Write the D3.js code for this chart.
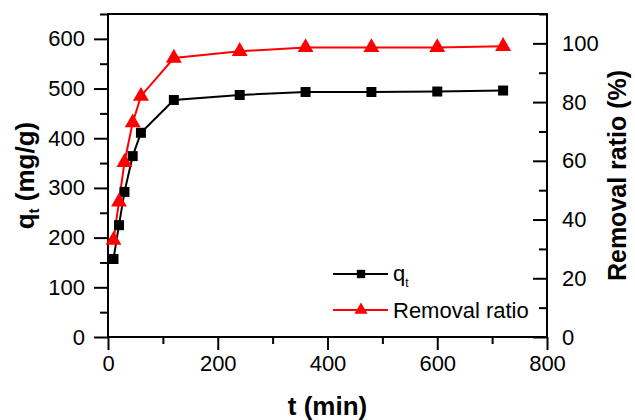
<!DOCTYPE html>
<html>
<head>
<meta charset="utf-8">
<script src="https://cdn.jsdelivr.net/npm/d3@7"></script>
<style>
  body { margin: 0; background: #fff; }
  text { font-family: "Liberation Sans", Arial, sans-serif; }
</style>
</head>
<body>
<div id="viz"></div>
<script>
const times = [10, 20, 30, 45, 60, 120, 240, 360, 480, 600, 720];
const qt = [157, 225, 292, 364, 411, 477, 487, 493, 493, 494, 496];
const removal = [33, 46, 59.5, 73, 82, 95, 97.3, 98.6, 98.6, 98.6, 99];
const xTicks = [0, 200, 400, 600, 800];
const leftTicks = [0, 100, 200, 300, 400, 500, 600];
const rightTicks = [0, 20, 40, 60, 80, 100];

const W = 635, H = 420;
const margin = {top: 14, right: 88, bottom: 83, left: 108};
const width = W - margin.left - margin.right;
const height = H - margin.top - margin.bottom;

const svg = d3.select('#viz').append('svg')
    .attr('width', W)
    .attr('height', H);

const g = svg.append('g')
    .attr('transform', `translate(${margin.left},${margin.top})`);

const x = d3.scaleLinear().domain([0, 800]).range([0, width]);
const yL = d3.scaleLinear().domain([0, 650]).range([height, 0]);
const yR = d3.scaleLinear().domain([0, 110]).range([height, 0]);

// minor ticks first
g.append('g')
    .attr('transform', `translate(0,${height})`)
    .call(d3.axisBottom(x).tickValues(d3.range(100, 800, 200)).tickSize(7).tickFormat(''));
g.append('g')
    .call(d3.axisLeft(yL).tickValues(d3.range(50, 651, 100)).tickSize(8).tickFormat(''));
g.append('g')
    .attr('transform', `translate(${width},0)`)
    .call(d3.axisLeft(yR).tickValues(d3.range(10, 111, 20)).tickSize(8).tickFormat(''));

// major
g.append('g')
    .attr('class', 'ax')
    .attr('transform', `translate(0,${height})`)
    .call(d3.axisBottom(x).tickValues(xTicks).tickSize(13).tickPadding(5));
g.append('g')
    .attr('class', 'ax')
    .call(d3.axisLeft(yL).tickValues(leftTicks).tickSize(14).tickPadding(9));
const rAx = g.append('g')
    .attr('class', 'ax')
    .attr('transform', `translate(${width},0)`)
    .call(d3.axisLeft(yR).tickValues(rightTicks).tickSize(14).tickPadding(0));
rAx.selectAll('text')
    .attr('x', 15)
    .attr('text-anchor', 'start');

g.selectAll('.domain').remove();
g.selectAll('.tick line').attr('stroke', '#000').attr('stroke-width', 2);
g.selectAll('.ax text')
    .attr('fill', '#000')
    .style('font-size', '22px')
    .style('font-family', '"Liberation Sans", Arial, sans-serif');

// frame
g.append('rect')
    .attr('width', width)
    .attr('height', height)
    .attr('fill', 'none')
    .attr('stroke', '#000')
    .attr('stroke-width', 2);

// series
const lineQ = d3.line().x((d, i) => x(times[i])).y(d => yL(d));
const lineR = d3.line().x((d, i) => x(times[i])).y(d => yR(d));

g.append('path').datum(qt)
    .attr('d', lineQ)
    .attr('fill', 'none')
    .attr('stroke', '#000')
    .attr('stroke-width', 2);
g.append('path').datum(removal)
    .attr('d', lineR)
    .attr('fill', 'none')
    .attr('stroke', '#ff0000')
    .attr('stroke-width', 2);

const sq = d3.symbol().type(d3.symbolSquare).size(100);
const tri = d3.symbol().type(d3.symbolTriangle).size(110);

g.selectAll('.sq').data(qt).join('path')
    .attr('class', 'sq')
    .attr('d', sq)
    .attr('transform', (d, i) => `translate(${x(times[i])},${yL(d)})`)
    .attr('fill', '#000');
g.selectAll('.tri').data(removal).join('path')
    .attr('class', 'tri')
    .attr('d', tri)
    .attr('transform', (d, i) => `translate(${x(times[i])},${yR(d)})`)
    .attr('fill', '#ff0000');

// legend
const leg = svg.append('g');
const legItems = [
  {color: '#000', sym: d3.symbol().type(d3.symbolSquare).size(70), y: 274},
  {color: '#ff0000', sym: d3.symbol().type(d3.symbolTriangle).size(75), y: 310}
];
legItems.forEach(it => {
  leg.append('line')
      .attr('x1', 333).attr('x2', 388)
      .attr('y1', it.y).attr('y2', it.y)
      .attr('stroke', it.color).attr('stroke-width', 2);
  leg.append('path')
      .attr('d', it.sym)
      .attr('transform', `translate(361,${it.y})`)
      .attr('fill', it.color);
});
const l1 = leg.append('text')
    .attr('x', 393).attr('y', 281)
    .style('font-size', '22px');
l1.append('tspan').text('q');
l1.append('tspan').text('t').attr('dy', 6).style('font-size', '12px');
leg.append('text')
    .attr('x', 393).attr('y', 318)
    .style('font-size', '22px')
    .text('Removal ratio');

// axis titles
svg.append('text')
    .attr('x', margin.left + width / 2)
    .attr('y', 415)
    .attr('text-anchor', 'middle')
    .style('font-size', '26px')
    .style('font-weight', 'bold')
    .text('t (min)');

const yt = svg.append('text')
    .attr('transform', `translate(34,${margin.top + height / 2}) rotate(-90)`)
    .attr('text-anchor', 'middle')
    .style('font-size', '26px')
    .style('font-weight', 'bold');
yt.append('tspan').text('q');
yt.append('tspan').text('t').attr('dy', 5).style('font-size', '15px');
yt.append('tspan').text(' (mg/g)').attr('dy', -5);

svg.append('text')
    .attr('transform', `translate(626,${margin.top + height / 2}) rotate(-90)`)
    .attr('text-anchor', 'middle')
    .style('font-size', '25px')
    .style('font-weight', 'bold')
    .text('Removal ratio (%)');
</script>
</body>
</html>
